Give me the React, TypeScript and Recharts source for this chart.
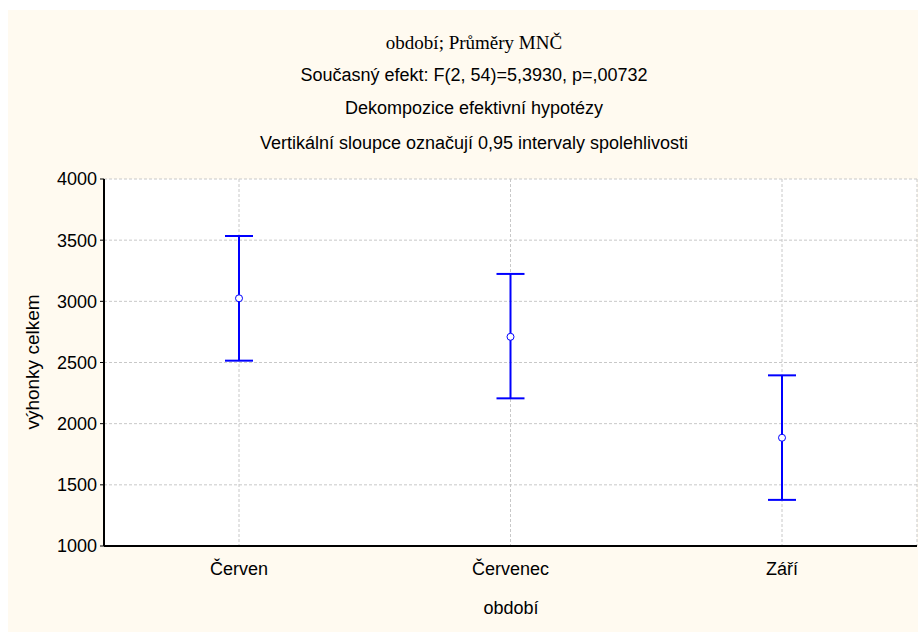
import React from "react";
import {
  LineChart,
  Line,
  XAxis,
  YAxis,
  CartesianGrid,
  ErrorBar,
} from "recharts";

// values
const categories = ["Červen", "Červenec", "Září"];
const means = [3025, 2710, 1885];
const lowerLimits = [2515, 2207, 1377];
const upperLimits = [3534, 3224, 2395];
const yTicks = [1000, 1500, 2000, 2500, 3000, 3500, 4000];

const titleLines = [
  "Současný efekt: F(2, 54)=5,3930, p=,00732",
  "Dekompozice efektivní hypotézy",
  "Vertikální sloupce označují 0,95 intervaly spolehlivosti",
];

const chartData = categories.map((name, i) => ({
  name,
  mean: means[i],
  err: [means[i] - lowerLimits[i], upperLimits[i] - means[i]],
}));

const sans = "'Liberation Sans', Arial, sans-serif";
const serif = "'Liberation Serif', 'Times New Roman', serif";

const App: React.FC = () => {
  return (
    <div
      style={{
        position: "absolute",
        left: 8,
        top: 10,
        width: 910,
        height: 622,
        background: "#FFFAF0",
        fontFamily: sans,
        color: "#000",
        overflow: "hidden",
      }}
    >
      <style>{`html, body { margin: 0; overflow: hidden; }`}</style>
      <div
        style={{
          position: "absolute",
          left: 0,
          width: 932,
          top: 21,
          lineHeight: "24px",
          textAlign: "center",
          fontFamily: serif,
          fontSize: 19,
        }}
      >
        období; Průměry MNČ
      </div>
      {titleLines.map((t, i) => (
        <div
          key={t}
          style={{
            position: "absolute",
            left: 0,
            width: 932,
            top: [53, 86, 121][i],
            lineHeight: "24px",
            textAlign: "center",
            fontSize: 18,
          }}
        >
          {t}
        </div>
      ))}
      <div
        style={{
          position: "absolute",
          left: 25 - 100,
          top: 352 - 12,
          width: 200,
          lineHeight: "24px",
          textAlign: "center",
          fontSize: 19,
          transform: "rotate(-90deg)",
        }}
      >
        výhonky celkem
      </div>
      <div
        style={{
          position: "absolute",
          left: 0,
          width: 1006,
          top: 598 - 12,
          lineHeight: "24px",
          textAlign: "center",
          fontSize: 18,
        }}
      >
        období
      </div>
      <div style={{ position: "absolute", left: 0, top: 0 }}>
        <LineChart
          width={910}
          height={622}
          data={chartData}
          margin={{ top: 169, right: 1, bottom: 2, left: 0 }}
        >
          <CartesianGrid
            fill="#FFFFFF"
            stroke="#C8C8C8"
            strokeDasharray="3 2"
          />
          <XAxis
            dataKey="name"
            height={84}
            padding={{ left: 135, right: 135 }}
            axisLine={{ stroke: "#000", strokeWidth: 2 }}
            tickLine={false}
            tickMargin={10}
            tick={{ fill: "#000", fontSize: 18, fontFamily: sans }}
          />
          <XAxis
            xAxisId="top"
            dataKey="name"
            orientation="top"
            height={0}
            padding={{ left: 135, right: 135 }}
            axisLine={{ stroke: "#000", strokeWidth: 1.5 }}
            tick={false}
            tickLine={false}
          />
          <YAxis
            width={96}
            domain={[1000, 4000]}
            ticks={yTicks}
            interval={0}
            axisLine={{ stroke: "#000", strokeWidth: 2 }}
            tickLine={{ stroke: "#000" }}
            tickSize={4}
            tickMargin={3}
            tick={{ fill: "#000", fontSize: 18, fontFamily: sans }}
          />
          <YAxis
            yAxisId="right"
            orientation="right"
            width={0}
            domain={[1000, 4000]}
            ticks={yTicks}
            axisLine={{ stroke: "#000", strokeWidth: 1.5 }}
            tick={false}
            tickLine={false}
          />
          <Line
            dataKey="mean"
            stroke="none"
            isAnimationActive={false}
            dot={{ r: 3.5, stroke: "#0000FF", strokeWidth: 1, fill: "#FFFFFF" }}
            activeDot={false}
          >
            <ErrorBar
              dataKey="err"
              direction="y"
              width={14}
              stroke="#0000FF"
              strokeWidth={2}
              isAnimationActive={false}
            />
          </Line>
        </LineChart>
      </div>
    </div>
  );
};

export default App;
